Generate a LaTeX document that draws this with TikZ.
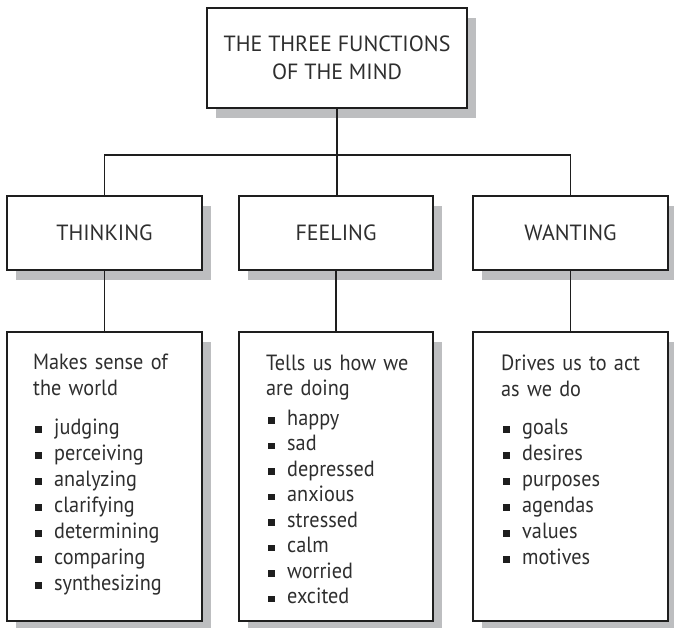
\documentclass[tikz,border=0pt]{standalone}
\usepackage{fontspec}
\setmainfont{PT Sans}
\newfontfamily\listfont{PT Sans}[FakeStretch=0.92]
\usetikzlibrary{shadows}
\definecolor{shadowgray}{HTML}{BDBEC0}
\definecolor{inkgray}{HTML}{2E2E2E}
\definecolor{linegray}{HTML}{1E1E1E}
\newcommand\sqbul{\makebox[21pt][l]{\hspace{2pt}\textcolor{linegray}{\rule[1.5pt]{6.5pt}{6.5pt}}}}
\tikzset{
  box/.style={draw=linegray, line width=1.6pt, fill=white, rectangle, inner sep=0pt,
    general shadow={fill=shadowgray, shadow xshift=9pt, shadow yshift=-10pt}},
  conn/.style={draw=linegray, line width=1.6pt},
  headtxt/.style={text=inkgray, font=\fontsize{22}{28}\selectfont, align=center},
  listtxt/.style={text=inkgray, anchor=base west, inner sep=0pt, align=left, text width=170pt},
}
\begin{document}
\begin{tikzpicture}[x=1pt, y=-1pt]
\useasboundingbox (0,0) rectangle (674,628);
% boxes
\node[box, minimum width=260pt, minimum height=100pt] (top) at (337,58) {};
\node[headtxt] (toptxt) at (top.center) {THE THREE FUNCTIONS\\OF THE MIND};
\node[box, minimum width=195pt, minimum height=74pt, headtxt] (think) at (104.5,233) {THINKING};
\node[box, minimum width=194pt, minimum height=74pt, headtxt] (feel) at (336,233) {FEELING};
\node[box, minimum width=195pt, minimum height=74pt, headtxt] (want) at (570.5,233) {WANTING};
\node[box, minimum width=195pt, minimum height=289pt] (thinkL) at (104.5,476.5) {};
\node[box, minimum width=194pt, minimum height=289pt] (feelL) at (336,476.5) {};
\node[box, minimum width=195pt, minimum height=289pt] (wantL) at (570.5,476.5) {};
% connectors
\coordinate (bus) at (337,155);
\draw[conn] (think.north) |- (bus) -| (want.north);
\draw[conn] (top.south) -- (top.south |- feel.north);
\draw[conn] (think.south) -- (thinkL.north);
\draw[conn] (feel.south) -- (feelL.north);
\draw[conn] (want.south) -- (wantL.north);
% list texts
\node[listtxt, font=\listfont\fontsize{22}{26}\selectfont] (thinkT) at (33,369)
  {Makes sense of\\the world\\[13pt]
   \sqbul judging\\\sqbul perceiving\\\sqbul analyzing\\\sqbul clarifying\\
   \sqbul determining\\\sqbul comparing\\\sqbul synthesizing};
\node[listtxt, font=\listfont\fontsize{22}{25.5}\selectfont] (feelT) at (266,370)
  {Tells us how we\\are doing\\[4pt]
   \sqbul happy\\\sqbul sad\\\sqbul depressed\\\sqbul anxious\\
   \sqbul stressed\\\sqbul calm\\\sqbul worried\\\sqbul excited};
\node[listtxt, font=\listfont\fontsize{22}{26}\selectfont] (wantT) at (501,370)
  {Drives us to act\\as we do\\[12pt]
   \sqbul goals\\\sqbul desires\\\sqbul purposes\\\sqbul agendas\\
   \sqbul values\\\sqbul motives};
\end{tikzpicture}
\end{document}
